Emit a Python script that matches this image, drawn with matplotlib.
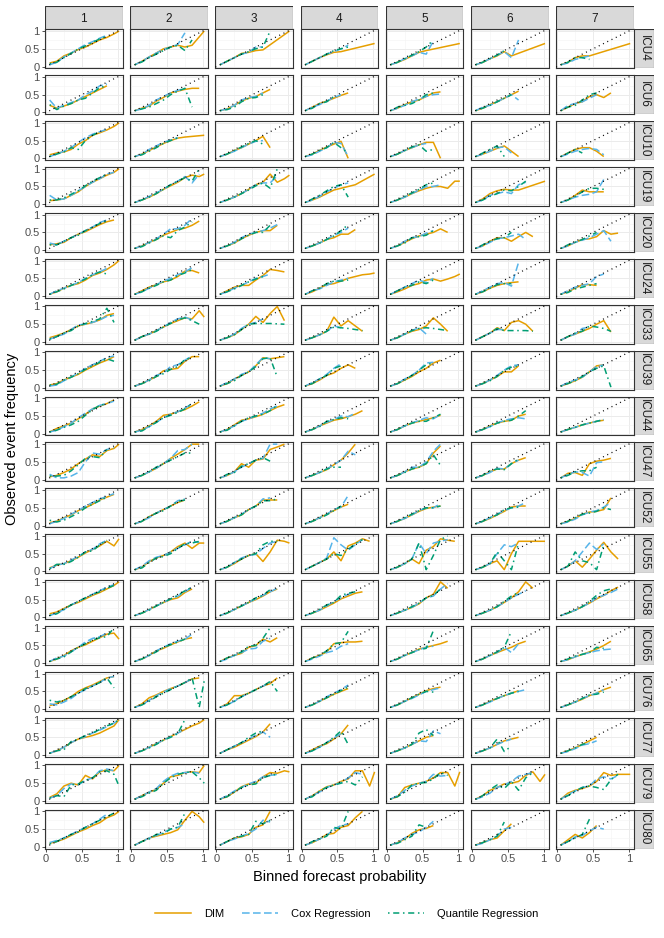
import matplotlib
matplotlib.use("Agg")
import matplotlib.pyplot as plt
from matplotlib import font_manager
from matplotlib.lines import Line2D
from matplotlib.patches import Rectangle

# bin centres of the forecast probability (None = empty bin, line is joined across it)
XS = [0.05, 0.15, 0.25, 0.35, 0.45, 0.55, 0.65, 0.75, 0.85, 0.95, 1.02]
COLS = ["1", "2", "3", "4", "5", "6", "7"]
ICUS = ["ICU4", "ICU6", "ICU10", "ICU19", "ICU20", "ICU24", "ICU33", "ICU39", "ICU44",
        "ICU47", "ICU52", "ICU55", "ICU58", "ICU65", "ICU76", "ICU77", "ICU79", "ICU80"]
METHODS = ["DIM", "Cox Regression", "Quantile Regression"]

N = None
DIM = {
    "ICU4": [[0.1, 0.15, 0.3, 0.38, 0.48, 0.55, 0.65, 0.75, 0.82, 0.92, 1.0],
             [0.05, 0.15, 0.27, 0.38, 0.5, 0.55, 0.6, 0.55, 0.6, N, 1.0],
             [0.05, 0.15, 0.25, 0.37, 0.4, 0.45, 0.47, N, N, N, 1.0],
             [0.05, 0.15, 0.25, 0.33, 0.4, 0.42, N, N, N, N, 0.65],
             [0.05, 0.12, 0.2, 0.3, 0.4, 0.45, N, N, N, N, 0.65],
             [0.05, 0.12, 0.22, 0.3, 0.42, 0.3, N, N, N, N, 0.65],
             [0.05, 0.12, 0.25, 0.3, 0.3, N, N, N, N, N, 0.65]],
    "ICU6": [[0.2, 0.12, 0.18, 0.25, 0.35, 0.45, 0.55, 0.65, 0.75],
             [0.05, 0.12, 0.18, 0.32, 0.42, 0.55, 0.6, 0.65, 0.68, 0.68],
             [0.05, 0.1, 0.2, 0.32, 0.4, 0.45, 0.55, 0.65],
             [0.05, 0.15, 0.25, 0.32, 0.4, 0.48, 0.55],
             [0.05, 0.12, 0.22, 0.3, 0.35, 0.45, 0.55, 0.58],
             [0.05, 0.12, 0.22, 0.3, 0.4, 0.5, 0.6],
             [0.05, 0.15, 0.25, 0.3, 0.45, 0.5, 0.42, 0.55]],
    "ICU10": [[0.1, 0.15, 0.18, 0.25, 0.4, 0.5, 0.65, 0.72, 0.8, 0.9, 1.0],
              [0.05, 0.12, 0.22, 0.32, 0.42, 0.5, 0.57, 0.6, N, N, 0.65],
              [0.05, 0.12, 0.22, 0.3, 0.4, 0.5, 0.62, 0.3],
              [0.05, 0.12, 0.22, 0.32, 0.4, 0.48, 0.0],
              [0.05, 0.12, 0.22, 0.3, 0.38, 0.45, 0.45, 0.0],
              [0.05, 0.12, 0.2, 0.28, 0.35, 0.2, 0.05],
              [0.05, 0.15, 0.25, 0.3, 0.3, 0.2, 0.05]],
    "ICU19": [[0.1, 0.12, 0.15, 0.25, 0.35, 0.5, 0.62, 0.72, 0.82, 0.9, 1.0],
              [0.05, 0.12, 0.2, 0.3, 0.42, 0.52, 0.62, 0.75, 0.82, 0.78, 0.85],
              [0.05, 0.12, 0.2, 0.3, 0.42, 0.55, 0.62, 0.85, 0.62, 0.72, 0.82],
              [0.05, 0.12, 0.2, 0.3, 0.4, 0.45, 0.5, 0.55, N, N, 0.85],
              [0.05, 0.12, 0.2, 0.3, 0.38, 0.45, 0.5, 0.5, 0.45, 0.65, 0.65],
              [0.05, 0.15, 0.3, 0.38, 0.42, 0.4, 0.4, N, N, N, 0.65],
              [0.05, 0.12, 0.25, 0.4, 0.35, 0.35, 0.35]],
    "ICU20": [[0.15, 0.18, 0.22, 0.35, 0.45, 0.52, 0.62, 0.72, 0.8, 0.85],
              [0.05, 0.12, 0.22, 0.3, 0.42, 0.5, 0.58, 0.62, 0.7, 0.82],
              [0.05, 0.12, 0.2, 0.32, 0.42, 0.5, 0.55, 0.55, 0.7],
              [0.05, 0.12, 0.2, 0.3, 0.35, 0.45, 0.45, 0.58],
              [0.05, 0.12, 0.22, 0.32, 0.4, 0.45, 0.5, 0.6, 0.5],
              [0.05, 0.12, 0.25, 0.35, 0.35, 0.25, 0.38, 0.5, 0.38],
              [0.05, 0.12, 0.22, 0.3, 0.32, 0.38, 0.55, 0.45, 0.48]],
    "ICU24": [[0.05, 0.12, 0.22, 0.3, 0.35, 0.45, 0.58, 0.65, 0.75, 0.88, 1.0],
              [0.05, 0.15, 0.25, 0.32, 0.4, 0.45, 0.55, 0.7, 0.72, 0.65],
              [0.05, 0.15, 0.25, 0.3, 0.3, 0.45, 0.58, 0.75, 0.72, 0.68],
              [0.05, 0.12, 0.22, 0.32, 0.35, 0.42, 0.5, 0.55, 0.6, 0.62, 0.65],
              [0.05, 0.12, 0.2, 0.3, 0.35, 0.45, 0.48, 0.42, 0.48, 0.55, 0.62],
              [0.05, 0.12, 0.22, 0.3, 0.35, 0.38, 0.4],
              [0.05, 0.12, 0.22, 0.32, 0.32, 0.3]],
    "ICU33": [[0.12, 0.18, 0.25, 0.35, 0.45, 0.5, 0.55, 0.62, 0.75, 0.8],
              [0.05, 0.15, 0.22, 0.32, 0.42, 0.52, 0.6, 0.68, 0.65, 0.88, 0.7],
              [0.05, 0.12, 0.2, 0.35, 0.5, 0.72, 0.55, 0.8, 1.0, 0.6],
              [0.05, 0.12, 0.2, 0.3, 0.7, 0.45, 0.6, 0.45, 0.3],
              [0.05, 0.12, 0.22, 0.3, 0.35, 0.45, 0.68, 0.5, 0.3],
              [0.05, 0.15, 0.25, 0.4, 0.32, 0.55, 0.6, 0.5, 0.3],
              [0.05, 0.15, 0.22, 0.3, 0.38, 0.5, 0.6, 0.28]],
    "ICU39": [[0.08, 0.12, 0.22, 0.3, 0.38, 0.5, 0.6, 0.7, 0.78, 0.88],
              [0.05, 0.12, 0.22, 0.32, 0.48, 0.52, 0.55, 0.75, 0.88, 0.88],
              [0.05, 0.12, 0.25, 0.35, 0.45, 0.62, 0.85, 0.82, 0.85, 0.88],
              [0.05, 0.12, 0.22, 0.35, 0.42, 0.55, 0.65, 0.55],
              [0.05, 0.12, 0.22, 0.32, 0.45, 0.55, 0.7, 0.78],
              [0.05, 0.12, 0.22, 0.32, 0.45, 0.45, 0.62],
              [0.05, 0.12, 0.2, 0.3, 0.45, 0.62, 0.65]],
    "ICU44": [[0.05, 0.15, 0.22, 0.3, 0.42, 0.55, 0.7, 0.78, 0.85, 0.95],
              [0.05, 0.12, 0.22, 0.35, 0.52, 0.55, 0.62, 0.68, 0.78, 0.9],
              [0.05, 0.12, 0.25, 0.38, 0.42, 0.48, 0.55, 0.65, 0.75, 0.82],
              [0.05, 0.12, 0.22, 0.3, 0.38, 0.42, 0.48, 0.55, 0.65],
              [0.05, 0.12, 0.22, 0.3, 0.35, 0.4, 0.45, 0.52],
              [0.05, 0.12, 0.22, 0.3, 0.35, 0.38, 0.5, 0.55],
              [0.05, 0.12, 0.18, 0.25, 0.3, 0.35, 0.38]],
    "ICU47": [[0.08, 0.12, 0.2, 0.3, 0.45, 0.58, 0.7, 0.65, 0.82, 0.88, 1.0],
              [0.05, 0.12, 0.22, 0.32, 0.45, 0.6, 0.72, 0.85, 1.0, 1.0],
              [0.05, 0.12, 0.22, 0.45, 0.35, 0.55, 0.58, 0.85, 0.92, 1.0],
              [0.05, 0.12, 0.2, 0.28, 0.42, 0.55, 0.75, 1.0],
              [0.05, 0.12, 0.22, 0.3, 0.35, 0.45, 0.75, 0.95],
              [0.05, 0.12, 0.22, 0.3, 0.3, 0.45, 0.55, 0.62],
              [0.05, 0.18, 0.2, 0.12, 0.45, 0.52, 0.55, 0.6]],
    "ICU52": [[0.08, 0.12, 0.22, 0.3, 0.42, 0.5, 0.6, 0.72, 0.8, 0.88],
              [0.05, 0.12, 0.25, 0.35, 0.45, 0.55, 0.65, 0.72],
              [0.05, 0.12, 0.22, 0.3, 0.45, 0.55, 0.72, 0.72, 0.72],
              [0.05, 0.12, 0.22, 0.32, 0.42, 0.52, 0.6],
              [0.05, 0.12, 0.2, 0.3, 0.4, 0.48, 0.52, 0.55],
              [0.05, 0.12, 0.2, 0.3, 0.4, 0.52, 0.55, 0.55],
              [0.05, 0.12, 0.2, 0.32, 0.38, 0.4, 0.45, 0.78]],
    "ICU55": [[0.1, 0.18, 0.22, 0.3, 0.4, 0.52, 0.62, 0.72, 0.85, 0.72, 0.92],
              [0.05, 0.12, 0.28, 0.38, 0.45, 0.55, 0.7, 0.8, 0.65, 0.8, 0.8],
              [0.05, 0.12, 0.22, 0.35, 0.45, 0.5, 0.28, 0.55, 0.88, 0.85, 0.8],
              [0.05, 0.15, 0.25, 0.35, 0.55, 0.3, 0.72, 0.8, 0.92, 0.85],
              [0.05, 0.12, 0.22, 0.35, 0.22, 0.6, 0.7, 0.92, 0.88, 0.85],
              [0.05, 0.12, 0.22, 0.3, 0.05, 0.5, 0.85, 0.85, 0.85, 0.85, 0.85],
              [0.05, 0.15, 0.3, 0.12, 0.35, 0.6, 0.82, 0.55, 0.35]],
    "ICU58": [[0.1, 0.15, 0.25, 0.35, 0.42, 0.52, 0.62, 0.7, 0.8, 0.9, 1.0],
              [0.05, 0.12, 0.22, 0.32, 0.42, 0.5, 0.55, 0.7, 0.8],
              [0.05, 0.12, 0.22, 0.32, 0.42, 0.5, 0.6, 0.72, 0.8],
              [0.05, 0.12, 0.2, 0.3, 0.4, 0.52, 0.6, 0.68, 0.72],
              [0.05, 0.12, 0.2, 0.28, 0.38, 0.55, 0.65, 1.0, 0.82],
              [0.05, 0.12, 0.2, 0.3, 0.42, 0.55, 0.72, 1.0, 0.82],
              [0.05, 0.12, 0.2, 0.3, 0.4, 0.52, 0.62, 0.75, 0.85]],
    "ICU65": [[0.05, 0.12, 0.22, 0.35, 0.45, 0.52, 0.62, 0.72, 0.82, 0.85, 0.68],
              [0.05, 0.12, 0.22, 0.35, 0.42, 0.52, 0.6, 0.68, 0.72],
              [0.05, 0.15, 0.22, 0.28, 0.45, 0.5, 0.68, 0.6, 0.72],
              [0.05, 0.15, 0.22, 0.32, 0.55, 0.58, 0.6, 0.6, 0.62],
              [0.05, 0.12, 0.22, 0.3, 0.4, 0.45, 0.5, 0.55, 0.62],
              [0.05, 0.12, 0.22, 0.3, 0.38, 0.45, 0.55, 0.62],
              [0.05, 0.1, 0.18, 0.25, 0.32, 0.4, 0.5, 0.62]],
    "ICU76": [[0.1, 0.15, 0.25, 0.35, 0.5, 0.6, 0.68, 0.78, 0.88, 0.92],
              [0.05, 0.15, 0.32, 0.4, 0.5, 0.58, 0.65, 0.75, 0.85, 0.88],
              [0.05, 0.15, 0.38, 0.38, 0.45, 0.55, 0.65, 0.72, 0.88],
              [0.05, 0.12, 0.22, 0.32, 0.42, 0.5, 0.58],
              [0.05, 0.12, 0.22, 0.32, 0.42, 0.52, 0.58, 0.62],
              [0.05, 0.12, 0.22, 0.3, 0.38, 0.45, 0.52],
              [0.05, 0.12, 0.2, 0.28, 0.38, 0.45, 0.55, 0.62]],
    "ICU77": [[0.05, 0.12, 0.22, 0.35, 0.45, 0.5, 0.55, 0.62, 0.72, 0.82, 1.0],
              [0.05, 0.12, 0.22, 0.32, 0.42, 0.52, 0.62, 0.72, 0.82, 0.9, 1.0],
              [0.05, 0.15, 0.22, 0.32, 0.42, 0.52, 0.65, 0.88],
              [0.05, 0.15, 0.25, 0.32, 0.45, 0.6, 0.85],
              [0.05, 0.12, 0.2, 0.3, 0.4, 0.5, 0.55],
              [0.05, 0.12, 0.2, 0.3, 0.4, 0.45, 0.5],
              [0.05, 0.12, 0.2, 0.3, 0.4, 0.5]],
    "ICU79": [[0.1, 0.2, 0.42, 0.5, 0.45, 0.72, 0.62, 0.82, 0.88, 0.85, 1.0],
              [0.05, 0.15, 0.25, 0.32, 0.5, 0.68, 0.72, 0.8, 0.82, 0.8, 1.0],
              [0.05, 0.12, 0.25, 0.4, 0.48, 0.5, 0.68, 0.8, 0.78, 0.85, 0.82],
              [0.05, 0.15, 0.28, 0.4, 0.45, 0.55, 0.62, 0.85, 0.85, 0.42, 0.82],
              [0.05, 0.12, 0.38, 0.45, 0.5, 0.55, 0.65, 0.8, 0.8, 0.42, 0.82],
              [0.05, 0.15, 0.3, 0.38, 0.48, 0.5, 0.55, 0.72, 0.82, 0.55, 0.75],
              [0.05, 0.22, 0.3, 0.35, 0.42, 0.55, 0.8, 0.72, 0.75, 0.75, 0.75]],
    "ICU80": [[0.1, 0.15, 0.22, 0.32, 0.42, 0.5, 0.6, 0.68, 0.82, 0.9, 1.0],
              [0.05, 0.15, 0.25, 0.3, 0.35, 0.4, 0.48, 0.75, 1.0, 0.85, 0.68],
              [0.05, 0.15, 0.25, 0.28, 0.35, 0.55, 0.62, 1.0],
              [0.05, 0.12, 0.22, 0.35, 0.38, 0.55, 0.6, 0.82, 1.0],
              [0.05, 0.12, 0.22, 0.38, 0.48, 0.52, 0.6],
              [0.05, 0.12, 0.2, 0.25, 0.45, 0.65],
              [0.05, 0.2, 0.35, 0.25, 0.4, 0.6]],
}

COX = {
    "ICU4": [[0.05, 0.12, 0.27, 0.38, 0.5, 0.62, 0.7, 0.8, 0.88],
             [0.05, 0.15, 0.27, 0.38, 0.48, 0.55, 0.62, 0.95],
             [0.05, 0.15, 0.25, 0.35, 0.4, 0.55, 0.55],
             [0.05, 0.15, 0.25, 0.35, 0.42, 0.5, 0.6],
             [0.05, 0.12, 0.22, 0.3, 0.4, 0.35, 0.72],
             [0.05, 0.12, 0.22, 0.32, 0.42, 0.25, 0.75],
             [0.05, 0.1, 0.2, 0.25, 0.3]],
    "ICU6": [[0.35, 0.12, 0.2, 0.28, 0.35, 0.5, 0.6, 0.75, 0.8],
             [0.05, 0.1, 0.2, 0.35, 0.45, 0.55, 0.62, 0.68],
             [0.05, 0.1, 0.2, 0.35, 0.42, 0.45, 0.55],
             [0.05, 0.15, 0.22, 0.32, 0.42, 0.5],
             [0.05, 0.12, 0.2, 0.3, 0.38, 0.45, 0.5, 0.52],
             [0.05, 0.15, 0.2, 0.3, 0.4, 0.5, 0.35],
             [0.05, 0.2, 0.25, 0.3, 0.4, 0.5]],
    "ICU10": [[0.05, 0.12, 0.2, 0.3, 0.45, 0.58, 0.68, 0.75, 0.82],
              [0.05, 0.12, 0.25, 0.35, 0.45, 0.52, 0.58],
              [0.05, 0.12, 0.2, 0.3, 0.4, 0.48, 0.5],
              [0.05, 0.1, 0.2, 0.3, 0.45, 0.42, 0.05],
              [0.05, 0.12, 0.22, 0.3, 0.38, 0.42],
              [0.05, 0.12, 0.2, 0.3, 0.32, 0.15],
              [0.05, 0.12, 0.2, 0.25, 0.28, 0.25, 0.1]],
    "ICU19": [[0.25, 0.12, 0.15, 0.25, 0.38, 0.5, 0.62, 0.72, 0.85, 0.9],
              [0.05, 0.12, 0.22, 0.32, 0.42, 0.55, 0.65, 0.78, 0.6, 0.85],
              [0.05, 0.12, 0.2, 0.3, 0.42, 0.55, 0.6, 0.6, 0.8],
              [0.05, 0.12, 0.22, 0.35, 0.45, 0.55, 0.6],
              [0.05, 0.12, 0.2, 0.3, 0.4, 0.5, 0.5, 0.55],
              [0.05, 0.12, 0.25, 0.3, 0.35, 0.3, 0.55, 0.62],
              [0.05, 0.12, 0.2, 0.25, 0.28, 0.35, 0.7]],
    "ICU20": [[0.2, 0.15, 0.25, 0.35, 0.45, 0.55, 0.65, 0.78, 0.85],
              [0.05, 0.12, 0.22, 0.32, 0.45, 0.6, 0.6, 0.7, 0.9],
              [0.05, 0.12, 0.22, 0.35, 0.45, 0.5, 0.55, 0.62, 0.72],
              [0.05, 0.12, 0.2, 0.3, 0.42, 0.5, 0.62],
              [0.05, 0.12, 0.25, 0.35, 0.38, 0.48, 0.55],
              [0.05, 0.12, 0.22, 0.32, 0.35, 0.4, 0.45, 0.3],
              [0.05, 0.12, 0.22, 0.28, 0.35, 0.45, 0.55, 0.25]],
    "ICU24": [[0.05, 0.15, 0.22, 0.3, 0.38, 0.5, 0.6, 0.68, 0.78],
              [0.05, 0.12, 0.22, 0.32, 0.42, 0.5, 0.6, 0.68, 0.8],
              [0.05, 0.12, 0.22, 0.3, 0.4, 0.5, 0.55, 0.62],
              [0.05, 0.15, 0.2, 0.3, 0.4, 0.45, 0.5],
              [0.05, 0.15, 0.25, 0.35, 0.45, 0.38, 0.5],
              [0.05, 0.15, 0.25, 0.35, 0.38, 0.28, 0.95],
              [0.05, 0.15, 0.25, 0.3, 0.35, 0.55, 0.62]],
    "ICU33": [[0.08, 0.15, 0.22, 0.35, 0.48, 0.5, 0.55, 0.62, 0.72, 0.75],
              [0.05, 0.15, 0.22, 0.32, 0.42, 0.55, 0.65, 0.7, 0.62],
              [0.05, 0.12, 0.22, 0.38, 0.5, 0.55, 0.65],
              [0.05, 0.12, 0.2, 0.3, 0.45, 0.4],
              [0.05, 0.12, 0.22, 0.32, 0.4, 0.22],
              [0.05, 0.15, 0.25, 0.35, 0.35],
              [0.05, 0.15, 0.22, 0.38, 0.42]],
    "ICU39": [[0.05, 0.08, 0.2, 0.3, 0.42, 0.55, 0.65, 0.75, 0.85, 0.9],
              [0.05, 0.12, 0.22, 0.35, 0.42, 0.6, 0.65, 0.78, 0.9],
              [0.05, 0.15, 0.25, 0.38, 0.45, 0.65, 0.85, 0.82],
              [0.05, 0.15, 0.25, 0.38, 0.55, 0.68],
              [0.05, 0.12, 0.25, 0.35, 0.5, 0.7, 0.72],
              [0.05, 0.12, 0.22, 0.35, 0.5, 0.62, 0.65],
              [0.05, 0.15, 0.22, 0.3, 0.45, 0.6, 0.65]],
    "ICU44": [[0.05, 0.1, 0.2, 0.3, 0.45, 0.58, 0.7, 0.8, 0.85, 0.92],
              [0.05, 0.1, 0.2, 0.32, 0.45, 0.55, 0.62, 0.72, 0.85],
              [0.05, 0.12, 0.22, 0.35, 0.42, 0.5, 0.58, 0.7, 0.78],
              [0.05, 0.12, 0.22, 0.32, 0.4, 0.5, 0.48, 0.58],
              [0.05, 0.12, 0.22, 0.3, 0.38, 0.45, 0.42, 0.55],
              [0.05, 0.12, 0.2, 0.3, 0.38, 0.42, 0.45, 0.42],
              [0.05, 0.12, 0.18, 0.25, 0.3, 0.35, 0.4]],
    "ICU47": [[0.15, 0.05, 0.05, 0.1, 0.2, 0.5, 0.75, 0.72, 0.85, 0.9],
              [0.05, 0.12, 0.22, 0.32, 0.45, 0.6, 0.82, 0.85, 1.0],
              [0.05, 0.12, 0.22, 0.35, 0.45, 0.55, 0.6, 1.0, 1.0],
              [0.05, 0.12, 0.2, 0.3, 0.42, 0.55, 0.8, 0.7],
              [0.05, 0.12, 0.22, 0.35, 0.35, 0.5, 0.8, 1.0],
              [0.05, 0.12, 0.2, 0.32, 0.3, 0.45, 0.55],
              [0.05, 0.15, 0.22, 0.2, 0.1, 0.48, 0.5]],
    "ICU52": [[0.05, 0.12, 0.2, 0.32, 0.42, 0.55, 0.65, 0.75, 0.82, 0.9],
              [0.05, 0.12, 0.22, 0.35, 0.45, 0.55, 0.7, 0.75],
              [0.05, 0.12, 0.22, 0.32, 0.45, 0.55, 0.75, 0.78],
              [0.05, 0.12, 0.22, 0.32, 0.45, 0.52, 0.85],
              [0.05, 0.12, 0.2, 0.3, 0.42, 0.5, 0.5, 0.62],
              [0.05, 0.12, 0.22, 0.32, 0.42, 0.5, 0.55, 0.65],
              [0.05, 0.1, 0.18, 0.3, 0.38, 0.42, 0.52, 0.65]],
    "ICU55": [[0.08, 0.18, 0.22, 0.32, 0.42, 0.55, 0.62, 0.78, 0.88],
              [0.05, 0.15, 0.3, 0.4, 0.45, 0.55, 0.65, 0.75, 0.85, 0.82],
              [0.05, 0.12, 0.25, 0.38, 0.45, 0.48, 0.65, 0.8, 0.85],
              [0.05, 0.15, 0.25, 0.38, 0.95, 0.75, 0.6, 0.75, 0.9],
              [0.05, 0.12, 0.22, 0.35, 0.8, 0.5, 0.8, 0.85, 0.9],
              [0.05, 0.12, 0.22, 0.5, 0.75, 0.7, 0.8],
              [0.05, 0.15, 0.3, 0.55, 0.8, 0.62, 0.78]],
    "ICU58": [[0.05, 0.12, 0.22, 0.35, 0.45, 0.55, 0.65, 0.75, 0.85, 0.92],
              [0.05, 0.12, 0.22, 0.32, 0.42, 0.52, 0.6, 0.72, 0.85],
              [0.05, 0.12, 0.22, 0.32, 0.42, 0.52, 0.62, 0.72, 0.82],
              [0.05, 0.12, 0.2, 0.32, 0.45, 0.55, 0.65, 0.72],
              [0.05, 0.12, 0.2, 0.28, 0.4, 0.55, 0.6, 0.8, 0.95],
              [0.05, 0.12, 0.2, 0.3, 0.42, 0.55, 0.65, 0.75],
              [0.05, 0.12, 0.2, 0.3, 0.4, 0.55, 0.62, 0.7, 0.8]],
    "ICU65": [[0.05, 0.15, 0.2, 0.32, 0.45, 0.6, 0.7, 0.75, 0.85],
              [0.05, 0.12, 0.22, 0.35, 0.45, 0.55, 0.62, 0.68, 0.82],
              [0.05, 0.12, 0.22, 0.3, 0.4, 0.42, 0.62, 0.7],
              [0.05, 0.12, 0.2, 0.3, 0.35, 0.48, 0.55],
              [0.05, 0.12, 0.22, 0.3, 0.38, 0.45, 0.48],
              [0.05, 0.12, 0.22, 0.3, 0.45, 0.3, 0.55],
              [0.05, 0.1, 0.18, 0.25, 0.3, 0.35, 0.38, 0.4]],
    "ICU76": [[0.15, 0.12, 0.2, 0.3, 0.45, 0.55, 0.65, 0.75, 0.88, 0.92],
              [0.05, 0.12, 0.25, 0.38, 0.48, 0.58, 0.65, 0.75, 0.85],
              [0.05, 0.12, 0.22, 0.35, 0.45, 0.55, 0.65, 0.75],
              [0.05, 0.12, 0.22, 0.35, 0.45, 0.55, 0.68],
              [0.05, 0.12, 0.22, 0.3, 0.4, 0.5, 0.55, 0.6],
              [0.05, 0.12, 0.2, 0.3, 0.38, 0.45, 0.5, 0.55],
              [0.05, 0.12, 0.2, 0.3, 0.38, 0.45, 0.55]],
    "ICU77": [[0.05, 0.12, 0.22, 0.35, 0.45, 0.52, 0.62, 0.7, 0.8, 0.9, 1.0],
              [0.05, 0.12, 0.22, 0.32, 0.42, 0.52, 0.62, 0.72],
              [0.05, 0.15, 0.25, 0.35, 0.45, 0.55, 0.65, 0.5],
              [0.05, 0.12, 0.22, 0.35, 0.48, 0.6],
              [0.05, 0.12, 0.2, 0.3, 0.4, 0.38, 0.68, 0.6],
              [0.05, 0.12, 0.2, 0.3, 0.38, 0.45],
              [0.05, 0.1, 0.18, 0.28, 0.32, 0.4]],
    "ICU79": [[0.08, 0.15, 0.35, 0.48, 0.45, 0.58, 0.65, 0.85, 0.9, 0.85],
              [0.05, 0.15, 0.25, 0.35, 0.55, 0.7, 0.78, 0.8, 0.82, 0.78],
              [0.05, 0.15, 0.28, 0.38, 0.48, 0.55, 0.68, 0.72, 0.75],
              [0.05, 0.15, 0.25, 0.38, 0.45, 0.52, 0.65, 0.8, 0.75],
              [0.05, 0.15, 0.3, 0.42, 0.5, 0.55, 0.75, 0.7, 0.72],
              [0.05, 0.12, 0.22, 0.38, 0.45, 0.55, 0.7, 0.75, 0.8],
              [0.05, 0.18, 0.28, 0.38, 0.42, 0.62, 0.68, 0.62, 0.72]],
    "ICU80": [[0.12, 0.18, 0.25, 0.35, 0.45, 0.55, 0.65, 0.78, 0.92],
              [0.05, 0.15, 0.25, 0.32, 0.4, 0.5, 0.55, 0.65],
              [0.05, 0.15, 0.22, 0.3, 0.38, 0.5, 0.75, 0.7],
              [0.05, 0.12, 0.22, 0.32, 0.5, 0.6, 0.65],
              [0.05, 0.12, 0.25, 0.35, 0.42, 0.55, 0.72],
              [0.05, 0.1, 0.2, 0.3, 0.5, 0.55],
              [0.05, 0.15, 0.28, 0.32, 0.45, 0.55, 0.5]],
}

QR = {
    "ICU4": [[0.08, 0.12, 0.25, 0.37, 0.5, 0.58, 0.68, 0.78, 0.85],
             [0.05, 0.13, 0.25, 0.35, 0.45, 0.55, 0.6, 0.45, 0.75],
             [0.05, 0.15, 0.25, 0.35, 0.42, 0.5, 0.55, 1.0],
             [0.05, 0.15, 0.25, 0.35, 0.45, 0.5, 0.55],
             [0.05, 0.12, 0.22, 0.32, 0.42, 0.55, 0.75],
             [0.05, 0.12, 0.22, 0.32, 0.45],
             [0.05, 0.12, 0.25, 0.25, 0.2]],
    "ICU6": [[0.22, 0.08, 0.18, 0.25, 0.35, 0.4, 0.55, 0.7, 0.75],
             [0.05, 0.1, 0.15, 0.25, 0.35, 0.5, 0.6, 0.68, 0.15],
             [0.05, 0.08, 0.15, 0.3, 0.4, 0.42, 0.5],
             [0.05, 0.12, 0.25, 0.3, 0.45],
             [0.05, 0.15, 0.2, 0.25, 0.35, 0.5, 0.55],
             [0.05, 0.12, 0.2, 0.3, 0.4, 0.5],
             [0.05, 0.15, 0.2, 0.35, 0.5, 0.55]],
    "ICU10": [[0.05, 0.12, 0.18, 0.3, 0.25, 0.5, 0.65, 0.75],
              [0.05, 0.1, 0.2, 0.3, 0.42, 0.5, 0.58],
              [0.05, 0.12, 0.22, 0.32, 0.42, 0.5, 0.4],
              [0.05, 0.12, 0.22, 0.3, 0.45, 0.3, 0.15],
              [0.05, 0.12, 0.22, 0.32, 0.38, 0.2, 0.25],
              [0.05, 0.15, 0.25, 0.35, 0.05],
              [0.05, 0.15, 0.25, 0.15]],
    "ICU19": [[0.12, 0.12, 0.18, 0.28, 0.38, 0.52, 0.65, 0.75, 0.85],
              [0.05, 0.12, 0.2, 0.3, 0.42, 0.55, 0.65, 0.75, 0.65, 1.0],
              [0.05, 0.12, 0.2, 0.3, 0.4, 0.52, 0.6, 0.45, 1.0],
              [0.05, 0.15, 0.25, 0.38, 0.5, 0.55, 0.2],
              [0.05, 0.12, 0.22, 0.32, 0.42, 0.55, 0.6],
              [0.05, 0.12, 0.22, 0.3, 0.4, 0.38, 0.5, 0.65],
              [0.05, 0.12, 0.22, 0.35, 0.45, 0.45, 0.42]],
    "ICU20": [[0.15, 0.15, 0.25, 0.35, 0.42, 0.55, 0.65, 0.75, 0.82],
              [0.05, 0.1, 0.2, 0.3, 0.4, 0.35, 0.55, 0.65, 0.8],
              [0.05, 0.12, 0.2, 0.32, 0.42, 0.5, 0.5, 0.7],
              [0.05, 0.12, 0.2, 0.3, 0.4, 0.55, 0.72],
              [0.05, 0.12, 0.2, 0.35, 0.38, 0.42, 0.55],
              [0.05, 0.15, 0.25, 0.32, 0.35, 0.5],
              [0.05, 0.15, 0.22, 0.3, 0.4, 0.5]],
    "ICU24": [[0.05, 0.12, 0.2, 0.3, 0.38, 0.48, 0.6, 0.68, 0.62],
              [0.05, 0.12, 0.22, 0.3, 0.4, 0.45, 0.58, 0.65, 0.75],
              [0.05, 0.12, 0.2, 0.3, 0.4, 0.48, 0.55],
              [0.05, 0.15, 0.22, 0.35, 0.42, 0.42, 0.45],
              [0.05, 0.15, 0.25, 0.3, 0.4, 0.35, 0.45],
              [0.05, 0.12, 0.22, 0.32, 0.35, 0.35],
              [0.05, 0.1, 0.2, 0.25, 0.3, 0.35]],
    "ICU33": [[0.08, 0.15, 0.25, 0.32, 0.45, 0.52, 0.58, 0.65, 0.95, 0.55],
              [0.05, 0.15, 0.22, 0.3, 0.42, 0.52, 0.62, 0.68, 0.6, 0.5],
              [0.05, 0.12, 0.2, 0.35, 0.5, 0.52, 0.52, 0.52, N, 0.5],
              [0.05, 0.12, 0.2, 0.3, 0.42, 0.4, 0.38, 0.35, 0.32],
              [0.05, 0.12, 0.22, 0.32, 0.38, 0.4, 0.38, 0.35, 0.32],
              [0.05, 0.15, 0.25, 0.38, 0.32, 0.32, 0.32, 0.32, 0.3],
              [0.05, 0.15, 0.25, 0.3, 0.45, 0.42, 0.38, 0.3]],
    "ICU39": [[0.08, 0.1, 0.22, 0.3, 0.4, 0.52, 0.62, 0.72, 0.82, 0.75],
              [0.05, 0.12, 0.2, 0.32, 0.4, 0.52, 0.6, 0.8, 0.85],
              [0.05, 0.12, 0.2, 0.35, 0.45, 0.6, 0.82, 0.85, 0.3],
              [0.05, 0.12, 0.25, 0.35, 0.55, 0.62],
              [0.05, 0.12, 0.22, 0.35, 0.5, 0.65, 0.7],
              [0.05, 0.12, 0.2, 0.32, 0.5, 0.58, 0.62],
              [0.05, 0.12, 0.2, 0.32, 0.45, 0.55, 0.62, 0.02]],
    "ICU44": [[0.05, 0.1, 0.18, 0.25, 0.35, 0.52, 0.68, 0.8, 0.85],
              [0.05, 0.08, 0.2, 0.32, 0.45, 0.52, 0.6, 0.7, 0.85],
              [0.05, 0.1, 0.22, 0.35, 0.45, 0.5, 0.55, 0.65, 0.8],
              [0.05, 0.12, 0.2, 0.35, 0.4, 0.45, 0.42],
              [0.05, 0.12, 0.22, 0.3, 0.35, 0.35, 0.45, 0.55],
              [0.05, 0.12, 0.2, 0.3, 0.35, 0.38, 0.5, 0.65],
              [0.05, 0.12, 0.18, 0.25, 0.3, 0.35, 0.4]],
    "ICU47": [[0.1, 0.1, 0.12, 0.25, 0.42, 0.6, 0.65, 0.62, 0.85],
              [0.05, 0.12, 0.22, 0.35, 0.45, 0.55, 0.65, 0.75, 0.75],
              [0.05, 0.15, 0.2, 0.38, 0.45, 0.55, 0.62, 0.52],
              [0.05, 0.12, 0.2, 0.3, 0.35, 0.35],
              [0.05, 0.12, 0.2, 0.3, 0.35, 0.45, 0.7, 0.4],
              [0.05, 0.12, 0.25, 0.3, 0.28, 0.45, 0.58],
              [0.05, 0.12, 0.22, 0.25, 0.25, 0.35]],
    "ICU52": [[0.15, 0.1, 0.15, 0.25, 0.35, 0.5, 0.6, 0.7, 0.8],
              [0.05, 0.12, 0.25, 0.35, 0.42, 0.55, 0.68, 0.72],
              [0.05, 0.12, 0.22, 0.3, 0.45, 0.55, 0.7, 0.7, 0.75],
              [0.05, 0.12, 0.2, 0.3, 0.42, 0.55],
              [0.05, 0.12, 0.22, 0.32, 0.42, 0.5, 0.5, 0.55],
              [0.05, 0.12, 0.22, 0.3, 0.45, 0.5, 0.52],
              [0.05, 0.12, 0.22, 0.32, 0.35, 0.4, 0.5, 0.45]],
    "ICU55": [[0.08, 0.2, 0.2, 0.28, 0.4, 0.55, 0.58, 0.75, 0.88],
              [0.05, 0.1, 0.25, 0.38, 0.42, 0.5, 0.65, 0.78, 0.8, 0.85],
              [0.05, 0.12, 0.25, 0.35, 0.45, 0.5, 0.75, 0.85, 0.85],
              [0.05, 0.15, 0.25, 0.35, 0.5, 0.45, 0.62, 0.78, 0.9],
              [0.05, 0.12, 0.22, 0.35, 0.8, 0.05, 0.45, 0.9, 1.0],
              [0.05, 0.12, 0.22, 0.55, 0.3, 0.05, 0.8],
              [0.05, 0.15, 0.55, 0.3, 0.25, 0.05, 0.75]],
    "ICU58": [[0.05, 0.1, 0.22, 0.35, 0.45, 0.55, 0.65, 0.72, 0.82, 0.9],
              [0.05, 0.12, 0.2, 0.32, 0.42, 0.52, 0.62, 0.75, 0.85],
              [0.05, 0.12, 0.22, 0.32, 0.42, 0.55, 0.62, 0.78],
              [0.05, 0.12, 0.22, 0.35, 0.42, 0.62, 0.68, 0.72],
              [0.05, 0.12, 0.2, 0.3, 0.4, 0.55, 0.62, 0.8],
              [0.05, 0.12, 0.2, 0.3, 0.45, 0.6, 0.7],
              [0.05, 0.12, 0.2, 0.3, 0.45, 0.62, 0.75, 0.8]],
    "ICU65": [[0.05, 0.12, 0.18, 0.32, 0.45, 0.55, 0.65, 0.72, 0.75, 1.0],
              [0.05, 0.12, 0.22, 0.32, 0.45, 0.52, 0.6, 0.68],
              [0.05, 0.15, 0.22, 0.32, 0.48, 0.5, 0.7, 1.0],
              [0.05, 0.15, 0.22, 0.35, 0.55, 0.58, 0.9],
              [0.05, 0.12, 0.22, 0.3, 0.38, 0.42, 0.92],
              [0.05, 0.12, 0.22, 0.32, 0.45, 0.9],
              [0.05, 0.12, 0.2, 0.25, 0.3, 0.45, 0.42]],
    "ICU76": [[0.25, 0.2, 0.25, 0.35, 0.45, 0.58, 0.65, 0.75, 0.88, 0.6],
              [0.05, 0.12, 0.22, 0.35, 0.45, 0.55, 0.65, 0.75, 0.88, 0.05, 0.8],
              [0.05, 0.12, 0.22, 0.35, 0.45, 0.55, 0.65, 0.78, 0.5],
              [0.05, 0.12, 0.22, 0.32, 0.42, 0.52, 0.62],
              [0.05, 0.12, 0.22, 0.32, 0.42, 0.5, 0.48],
              [0.05, 0.12, 0.22, 0.3, 0.38, 0.45, 0.5],
              [0.05, 0.12, 0.2, 0.3, 0.4, 0.42, 0.48]],
    "ICU77": [[0.05, 0.12, 0.15, 0.38, 0.45, 0.55, 0.62, 0.72, 0.82, 0.9, 1.0],
              [0.05, 0.12, 0.2, 0.3, 0.42, 0.5, 0.6, 1.0],
              [0.05, 0.15, 0.25, 0.35, 0.5, 0.62, 0.68],
              [0.05, 0.12, 0.22, 0.35, 0.5, 0.68, 0.3],
              [0.05, 0.12, 0.2, 0.3, 0.62, 0.72, 0.55],
              [0.05, 0.12, 0.2, 0.45, 0.1, 0.25],
              [0.05, 0.12, 0.2, 0.3, 0.35]],
    "ICU79": [[0.08, 0.15, 0.12, 0.45, 0.48, 0.58, 0.65, 0.82, 0.85, 0.75, 0.42],
              [0.05, 0.12, 0.22, 0.3, 0.5, 0.65, 0.75, 0.8, 0.82, 0.65, 0.5],
              [0.05, 0.12, 0.25, 0.38, 0.45, 0.48, 0.65, 0.72, 0.75],
              [0.05, 0.12, 0.28, 0.38, 0.45, 0.5, 0.55, 0.45, 0.68],
              [0.05, 0.12, 0.25, 0.45, 0.5, 0.52, 0.62, 0.8, 0.72],
              [0.05, 0.15, 0.32, 0.45, 0.35, 0.55, 0.3, 0.65, 0.8],
              [0.05, 0.15, 0.28, 0.38, 0.42, 0.38, 0.32, 0.6, 0.75]],
    "ICU80": [[0.08, 0.15, 0.25, 0.35, 0.42, 0.55, 0.65, 0.75, 0.85, 0.95],
              [0.05, 0.15, 0.22, 0.35, 0.38, 0.5, 0.55, 0.95],
              [0.05, 0.15, 0.25, 0.3, 0.35, 0.72, 0.65, 0.75],
              [0.05, 0.15, 0.22, 0.3, 0.55, 0.5, 1.0],
              [0.05, 0.1, 0.2, 0.3, 0.62, 0.55],
              [0.05, 0.12, 0.2, 0.3, 0.7],
              [0.05, 0.15, 0.25, 0.35, 0.78]],
}

COLOURS = ["#E69F00", "#56B4E9", "#009E73"]
STYLES = ["-", (0, (5.0, 2.2)), (0, (1.0, 2.4, 4.0, 2.4))]

# pick a font close to the narrow Helvetica of the original
available = {f.name for f in font_manager.fontManager.ttflist}
for fam in ["Liberation Sans Narrow", "Liberation Sans", "DejaVu Sans"]:
    if fam in available:
        plt.rcParams["font.family"] = fam
        break

W, H = 664, 938


def rect(left, top, w, h):
    return [left / W, 1 - (top + h) / H, w / W, h / H]


def pts(ys):
    xx = [XS[i] for i, v in enumerate(ys) if v is not None]
    yy = [v for v in ys if v is not None]
    return xx, yy


fig = plt.figure(figsize=(W / 100, H / 100), dpi=100)

P_LEFT, P_TOP, P_W, P_H = 45.0, 29.3, 77.6, 39.0
DX, DY = 85.2, 45.9
grey20 = "#333333"

for r, icu in enumerate(ICUS):
    for c, col in enumerate(COLS):
        ax = fig.add_axes(rect(P_LEFT + c * DX, P_TOP + r * DY, P_W, P_H))
        ax.set_xlim(-0.015, 1.07)
        ax.set_ylim(-0.05, 1.05)
        ax.set_xticks([0, 0.5, 1])
        ax.set_yticks([0, 0.5, 1])
        ax.set_xticks([0.25, 0.75], minor=True)
        ax.set_yticks([0.25, 0.75], minor=True)
        ax.grid(which="major", color="#EBEBEB", lw=0.7)
        ax.grid(which="minor", color="#F3F3F3", lw=0.4)
        ax.set_axisbelow(True)
        for s in ax.spines.values():
            s.set_color(grey20)
            s.set_linewidth(0.8)
        ax.tick_params(which="minor", length=0)
        ax.tick_params(which="major", length=2.5, width=0.6, color=grey20,
                       labelsize=8, labelcolor="#4D4D4D", pad=1.5)
        if c == 0:
            ax.set_yticklabels(["0", "0.5", "1"])
        else:
            ax.tick_params(axis="y", length=0, labelleft=False)
        if r == len(ICUS) - 1:
            ax.set_xticklabels(["0", "0.5", "1"])
        else:
            ax.tick_params(axis="x", length=0, labelbottom=False)

        for series, colour, ls in zip([DIM, COX, QR], COLOURS, STYLES):
            xx, yy = pts(series[icu][c])
            ax.plot(xx, yy, color=colour, linestyle=ls, lw=1.1,
                    solid_capstyle="butt", dash_capstyle="butt")
        ax.axline((0, 0), slope=1, color="black", lw=0.9,
                  linestyle=(0, (0.8, 3.0)), zorder=5)

        # column strips
        if r == 0:
            sax = fig.add_axes(rect(P_LEFT + c * DX, 6.5, P_W, P_TOP - 6.5))
            sax.add_patch(Rectangle((0, 0), 1, 1, transform=sax.transAxes,
                                    facecolor="#D9D9D9", edgecolor=grey20, lw=0.8))
            sax.text(0.5, 0.45, col, ha="center", va="center", fontsize=8.5,
                     color="#1A1A1A", transform=sax.transAxes)
            sax.axis("off")
    # row strip
    rax = fig.add_axes(rect(P_LEFT + 6 * DX + P_W, P_TOP + r * DY, 20.5, P_H))
    rax.add_patch(Rectangle((0, 0), 1, 1, transform=rax.transAxes,
                            facecolor="#D9D9D9", edgecolor=grey20, lw=0.8))
    rax.text(0.5, 0.5, icu, ha="center", va="center", rotation=-90, fontsize=8.5,
             color="#1A1A1A", transform=rax.transAxes)
    rax.axis("off")

panels_mid_x = (P_LEFT + P_LEFT + 6 * DX + P_W) / 2
panels_mid_y = (P_TOP + P_TOP + 17 * DY + P_H) / 2
fig.text(panels_mid_x / W, 1 - 877 / H, "Binned forecast probability",
         ha="center", va="center", fontsize=10.5)
fig.text(12 / W, 1 - panels_mid_y / H, "Observed event frequency",
         ha="center", va="center", rotation=90, fontsize=10.5)

handles = [Line2D([], [], color=cl, linestyle=ls, lw=1.1)
           for cl, ls in zip(COLOURS, STYLES)]
fig.legend(handles, METHODS, loc="center", ncol=3, frameon=False,
           bbox_to_anchor=(347 / W, 1 - 914 / H), fontsize=8,
           handlelength=3.2, columnspacing=1.6, handletextpad=1.2)

fig.savefig("out.png", dpi=100)
